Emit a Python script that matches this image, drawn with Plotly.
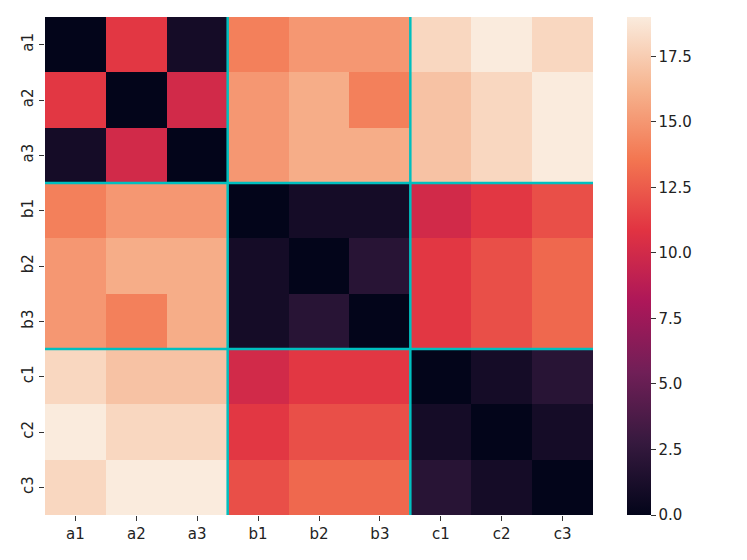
import plotly.graph_objects as go

labels = ["a1", "a2", "a3", "b1", "b2", "b3", "c1", "c2", "c3"]
group_size = 3

row_a1 = [0, 11, 1, 14, 15, 15, 18, 19, 18]
row_a2 = [11, 0, 10, 15, 16, 14, 17, 18, 19]
row_a3 = [1, 10, 0, 15, 16, 16, 17, 18, 19]
row_b1 = [14, 15, 15, 0, 1, 1, 10, 11, 12]
row_b2 = [15, 16, 16, 1, 0, 2, 11, 12, 13]
row_b3 = [15, 14, 16, 1, 2, 0, 11, 12, 13]
row_c1 = [18, 17, 17, 10, 11, 11, 0, 1, 2]
row_c2 = [19, 18, 18, 11, 12, 12, 1, 0, 1]
row_c3 = [18, 19, 19, 12, 13, 13, 2, 1, 0]
z = [row_a1, row_a2, row_a3, row_b1, row_b2, row_b3, row_c1, row_c2, row_c3]

rocket = [
    [0.0, "#03051a"], [1/7, "#35193e"], [2/7, "#701f57"], [3/7, "#ad1759"],
    [4/7, "#e13342"], [5/7, "#f37651"], [6/7, "#f6b48f"], [1.0, "#faebdd"],
]

fig = go.Figure(go.Heatmap(
    z=z, x=labels, y=labels, colorscale=rocket, zmin=0, zmax=19, xgap=0, ygap=0,
    colorbar=dict(
        thickness=24, thicknessmode="pixels", len=1, lenmode="fraction",
        x=1.062, xanchor="left", xpad=0, ypad=0, y=0.5, yanchor="middle", outlinewidth=0,
        tickvals=[0, 2.5, 5, 7.5, 10, 12.5, 15, 17.5], tickformat=".1f",
        ticks="outside", ticklen=5, tickcolor="#333", tickfont=dict(size=15, color="#222"),
    ),
))

n = len(labels)
shapes = []
for k in range(group_size, n, group_size):
    b = k - 0.5
    shapes.append(dict(type="line", xref="x", yref="y", x0=b, x1=b, y0=-0.5, y1=n - 0.5,
                       line=dict(color="#00bfbf", width=2.5)))
    shapes.append(dict(type="line", xref="x", yref="y", x0=-0.5, x1=n - 0.5, y0=b, y1=b,
                       line=dict(color="#00bfbf", width=2.5)))

fig.update_layout(
    width=739, height=552,
    margin=dict(l=37, r=154, t=9, b=45, autoexpand=False),
    paper_bgcolor="white", plot_bgcolor="white",
    font=dict(family="DejaVu Sans", size=15, color="#222"),
    shapes=shapes,
    xaxis=dict(ticks="outside", ticklen=5, tickcolor="#333", showgrid=False, zeroline=False,
               range=[-0.5, n - 0.5], automargin=False),
    yaxis=dict(ticks="outside", ticklen=5, tickcolor="#333", showgrid=False, zeroline=False,
               range=[n - 0.5, -0.5], tickangle=-90, automargin=False),
)

fig.write_html("out.html")
